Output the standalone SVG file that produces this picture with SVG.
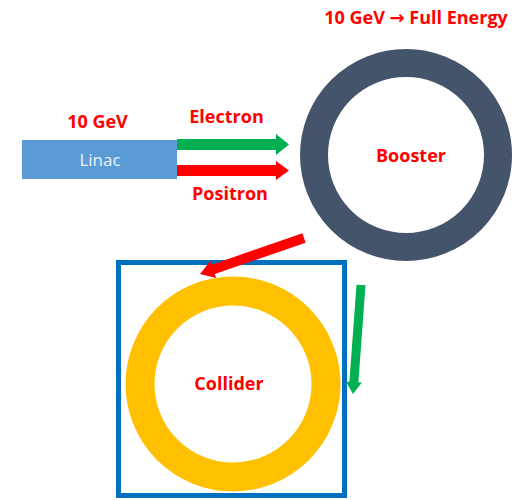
<svg xmlns="http://www.w3.org/2000/svg" width="528" height="500" viewBox="0 0 528 500">
<style>
.lbl{font-family:"Open Sans","Liberation Sans",sans-serif;font-weight:bold;font-size:18px;fill:#FF0000;text-anchor:middle}
.arr{font-family:"DejaVu Sans",sans-serif;font-weight:bold;font-size:18px}
.ring{fill:none}
</style>
<rect x="0" y="0" width="528" height="500" fill="#FFFFFF"/>
<g id="linac">
<rect x="22" y="140" width="155" height="39" fill="#5B9BD5"/>
<text x="100" y="166" text-anchor="middle" font-family="'Open Sans','Liberation Sans',sans-serif" font-size="17" fill="#EAF1FB">Linac</text>
</g>
<text class="lbl" x="97.5" y="128">10 GeV</text>
<text class="lbl" x="226.5" y="123">Electron</text>
<text class="lbl" x="230" y="200">Positron</text>
<text class="lbl" x="416" y="24">10 GeV <tspan class="arr">→</tspan> Full Energy</text>
<g id="booster">
<circle class="ring" cx="406" cy="155" r="92" stroke="#44546A" stroke-width="28"/>
<text class="lbl" x="411" y="162">Booster</text>
</g>
<g id="collider">
<rect x="118.5" y="262.5" width="226" height="233" fill="none" stroke="#0070C0" stroke-width="5"/>
<circle class="ring" cx="233" cy="384" r="93" stroke="#FFC000" stroke-width="29"/>
<text class="lbl" x="229" y="390">Collider</text>
</g>
<g id="connectors">
<polygon fill="#00B050" points="177,139 276,139 276,134 289,144.5 276,155 276,150 177,150"/>
<polygon fill="#FF0000" points="177,165 276,165 276,161 289,170.5 276,180 276,176 177,176"/>
<polygon fill="#FF0000" points="302.4,233.3 211.6,264.7 210.3,260.9 200,274 216.1,277.9 214.8,274.1 305.6,242.7"/>
<polygon fill="#00B050" points="356.5,284.7 349.4,381.7 345.9,381.4 353,394 361.9,382.6 358.4,382.3 365.5,285.3"/>
</g>
</svg>
